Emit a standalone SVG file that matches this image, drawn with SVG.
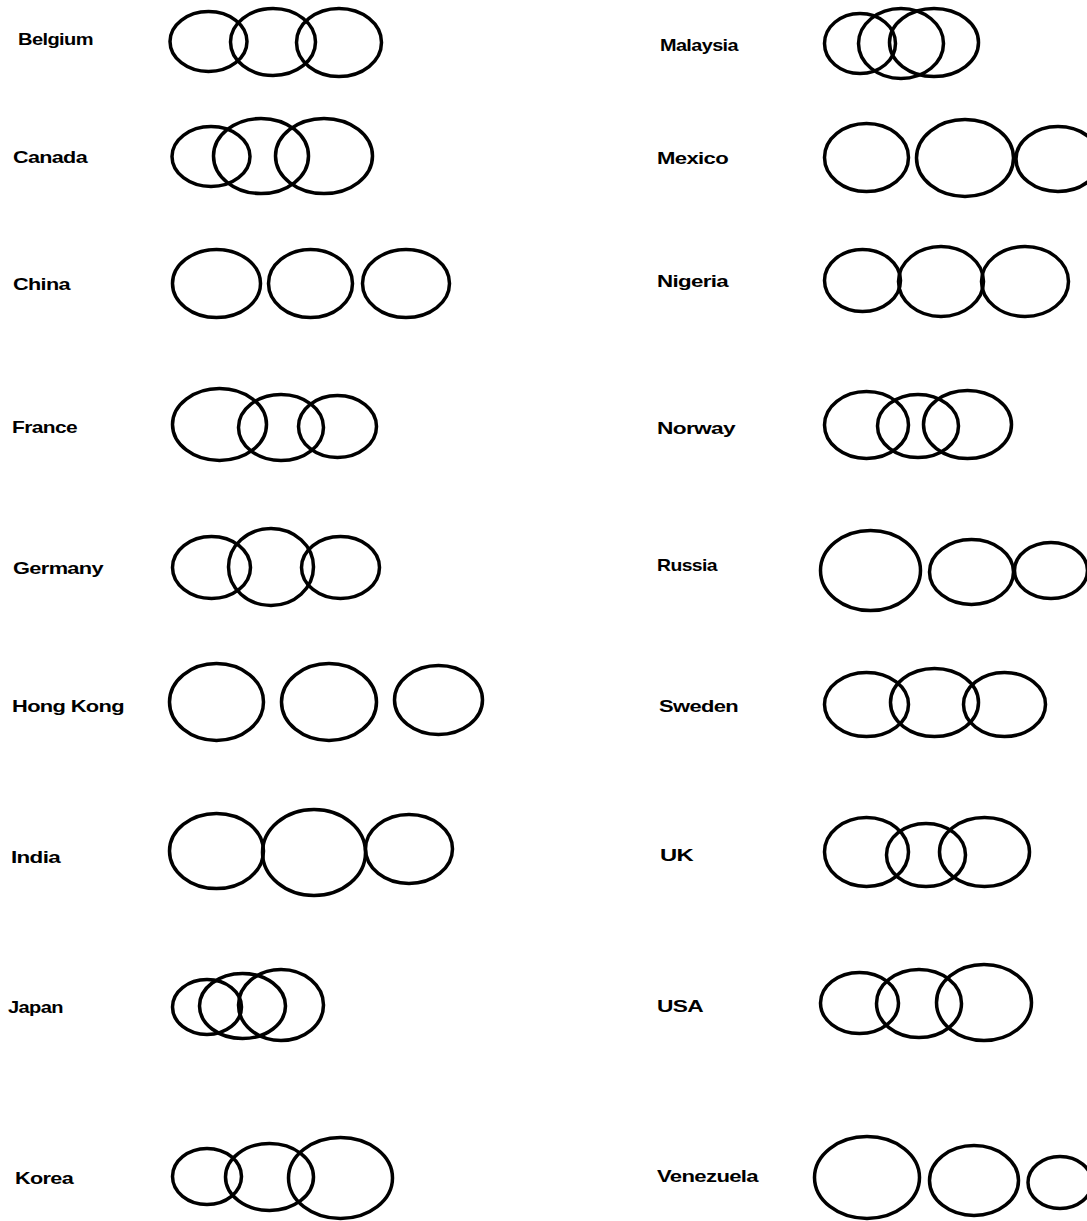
<svg xmlns="http://www.w3.org/2000/svg" width="1087" height="1221" viewBox="0 0 1087 1221">
<style>
.lbl{font-family:"Liberation Sans",Arial,sans-serif;font-size:17px;font-weight:bold;fill:#000;letter-spacing:-0.5px}
ellipse{fill:none;stroke:#000;stroke-width:3.5}
</style>
<rect width="1087" height="1221" fill="#fff"/>
<g id="belgium"><text class="lbl" x="18" y="45" textLength="75" lengthAdjust="spacingAndGlyphs">Belgium</text>
<ellipse cx="208.5" cy="41.5" rx="38.5" ry="30"/><ellipse cx="273" cy="42" rx="42.5" ry="33.5"/><ellipse cx="339" cy="42.5" rx="42.5" ry="34"/></g>
<g id="canada"><text class="lbl" x="13" y="163" textLength="74" lengthAdjust="spacingAndGlyphs">Canada</text>
<ellipse cx="211" cy="156.5" rx="39" ry="30"/><ellipse cx="261" cy="156" rx="47.5" ry="37.5"/><ellipse cx="324" cy="156" rx="48.5" ry="37.5"/></g>
<g id="china"><text class="lbl" x="13" y="290" textLength="57" lengthAdjust="spacingAndGlyphs">China</text>
<ellipse cx="216.5" cy="283.5" rx="44" ry="34"/><ellipse cx="310.5" cy="283.5" rx="42" ry="34"/><ellipse cx="406" cy="283.5" rx="43.5" ry="34"/></g>
<g id="france"><text class="lbl" x="12" y="433" textLength="65" lengthAdjust="spacingAndGlyphs">France</text>
<ellipse cx="219.5" cy="424.5" rx="47" ry="36"/><ellipse cx="281" cy="427.5" rx="42.5" ry="33"/><ellipse cx="337.5" cy="426.5" rx="39" ry="31"/></g>
<g id="germany"><text class="lbl" x="13" y="574" textLength="90" lengthAdjust="spacingAndGlyphs">Germany</text>
<ellipse cx="211.5" cy="567.5" rx="39" ry="31"/><ellipse cx="271" cy="567" rx="42.5" ry="38.5"/><ellipse cx="340.5" cy="567.5" rx="39" ry="31"/></g>
<g id="hongkong"><text class="lbl" x="12" y="712" textLength="112" lengthAdjust="spacingAndGlyphs">Hong Kong</text>
<ellipse cx="216.5" cy="702" rx="47" ry="38.5"/><ellipse cx="329" cy="702" rx="47.5" ry="38.5"/><ellipse cx="438.5" cy="700" rx="44" ry="34.5"/></g>
<g id="india"><text class="lbl" x="11" y="863" textLength="49" lengthAdjust="spacingAndGlyphs">India</text>
<ellipse cx="216.5" cy="851" rx="47" ry="37.5"/><ellipse cx="314" cy="852.5" rx="51.5" ry="43"/><ellipse cx="409" cy="849" rx="43.5" ry="34.5"/></g>
<g id="japan"><text class="lbl" x="8" y="1013" textLength="55" lengthAdjust="spacingAndGlyphs">Japan</text>
<ellipse cx="207" cy="1007" rx="34.5" ry="27.5"/><ellipse cx="242.5" cy="1006" rx="43" ry="32.5"/><ellipse cx="281" cy="1005" rx="42.5" ry="35.5"/></g>
<g id="korea"><text class="lbl" x="15" y="1184" textLength="58" lengthAdjust="spacingAndGlyphs">Korea</text>
<ellipse cx="207" cy="1176.5" rx="34.5" ry="28"/><ellipse cx="269.5" cy="1177" rx="44" ry="33.5"/><ellipse cx="340.5" cy="1178" rx="52" ry="40.5"/></g>
<g id="malaysia"><text class="lbl" x="660" y="51" textLength="78" lengthAdjust="spacingAndGlyphs">Malaysia</text>
<ellipse cx="860" cy="43.5" rx="35.5" ry="30"/><ellipse cx="901" cy="43.5" rx="42.5" ry="35"/><ellipse cx="934" cy="42.5" rx="44.5" ry="34"/></g>
<g id="mexico"><text class="lbl" x="657" y="164" textLength="71" lengthAdjust="spacingAndGlyphs">Mexico</text>
<ellipse cx="866.5" cy="157.5" rx="42" ry="34"/><ellipse cx="965" cy="158" rx="48.5" ry="38.5"/><ellipse cx="1058" cy="159" rx="42" ry="32.5"/></g>
<g id="nigeria"><text class="lbl" x="657" y="287" textLength="71" lengthAdjust="spacingAndGlyphs">Nigeria</text>
<ellipse cx="862.5" cy="280.5" rx="38" ry="31"/><ellipse cx="941" cy="281.5" rx="42.5" ry="35"/><ellipse cx="1025" cy="281.5" rx="43.5" ry="35"/></g>
<g id="norway"><text class="lbl" x="657" y="434" textLength="78" lengthAdjust="spacingAndGlyphs">Norway</text>
<ellipse cx="866.5" cy="425" rx="42" ry="33.5"/><ellipse cx="918" cy="426" rx="40.5" ry="31.5"/><ellipse cx="967.5" cy="424.5" rx="44" ry="34"/></g>
<g id="russia"><text class="lbl" x="657" y="571" textLength="60" lengthAdjust="spacingAndGlyphs">Russia</text>
<ellipse cx="870.5" cy="570.5" rx="50" ry="40"/><ellipse cx="971.5" cy="572" rx="42" ry="32.5"/><ellipse cx="1051" cy="570.5" rx="36.5" ry="28"/></g>
<g id="sweden"><text class="lbl" x="659" y="712" textLength="79" lengthAdjust="spacingAndGlyphs">Sweden</text>
<ellipse cx="866.5" cy="704.5" rx="42" ry="32"/><ellipse cx="934.5" cy="702.5" rx="44" ry="34"/><ellipse cx="1004.5" cy="704.5" rx="41" ry="32"/></g>
<g id="uk"><text class="lbl" x="660" y="861" textLength="33" lengthAdjust="spacingAndGlyphs">UK</text>
<ellipse cx="866.5" cy="852" rx="42" ry="34.5"/><ellipse cx="926" cy="855" rx="39.5" ry="31.5"/><ellipse cx="984.5" cy="852" rx="45" ry="34.5"/></g>
<g id="usa"><text class="lbl" x="657" y="1012" textLength="46" lengthAdjust="spacingAndGlyphs">USA</text>
<ellipse cx="859.5" cy="1003" rx="39" ry="30.5"/><ellipse cx="919" cy="1003.5" rx="42.5" ry="34"/><ellipse cx="984" cy="1002.5" rx="47.5" ry="38"/></g>
<g id="venezuela"><text class="lbl" x="657" y="1182" textLength="101" lengthAdjust="spacingAndGlyphs">Venezuela</text>
<ellipse cx="867" cy="1177.5" rx="52.5" ry="41"/><ellipse cx="974" cy="1180.5" rx="44.5" ry="35"/><ellipse cx="1060" cy="1182.5" rx="32" ry="26"/></g>
<g id="connectors"></g>
</svg>
